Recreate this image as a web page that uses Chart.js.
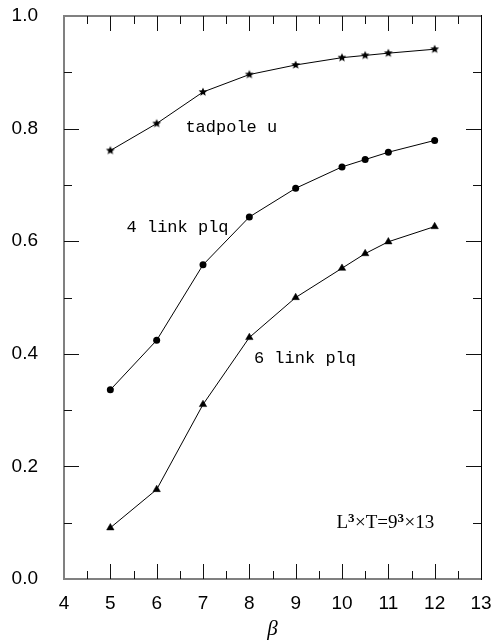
<!DOCTYPE html>
<html>
<head>
<meta charset="utf-8">
<script src="https://cdn.jsdelivr.net/npm/chart.js@4/dist/chart.umd.min.js"></script>
<style>
  html, body { margin: 0; padding: 0; background: #fff; }
  canvas { display: block; }
</style>
</head>
<body>
<canvas id="chart" width="491" height="643"></canvas>
<script>
// Coupling values (beta) at which each observable was measured
const betas = [5, 6, 7, 8, 9, 10, 10.5, 11, 12];

// Observables vs beta
const tadpoleU = [0.761, 0.809, 0.865, 0.896, 0.913, 0.926, 0.930, 0.934, 0.941];
const plaq4    = [0.336, 0.424, 0.558, 0.643, 0.694, 0.732, 0.745, 0.758, 0.779];
const plaq6    = [0.091, 0.159, 0.310, 0.429, 0.500, 0.552, 0.578, 0.599, 0.626];

// Axis ranges and tick steps
const xRange = [4, 13];
const yRange = [0, 1];
const xStep = 0.5;   // minor ticks every half unit, labels on integers
const yStep = 0.1;   // minor ticks every 0.1, labels every 0.2

// Curve captions and where they sit (in data coordinates)
const curveNames = ['tadpole u', '4 link plq', '6 link plq'];
const curveNameAt = [[6.62, 0.802], [5.35, 0.625], [8.1, 0.392]];

// Lattice size caption: [text, superscript?]
const latticeParts = [['L', false], ['3', true], ['\u00D7T=9', false], ['3', true], ['\u00D713', false]];
const latticeAt = [9.88, 0.099];

function makeStar(r) {
  const size = Math.ceil(r * 2) + 2;
  const c = document.createElement('canvas');
  c.width = c.height = size;
  const g = c.getContext('2d');
  g.fillStyle = '#000';
  g.beginPath();
  for (let i = 0; i < 10; i++) {
    const rad = i % 2 ? r * 0.45 : r;
    const a = -Math.PI / 2 + i * Math.PI / 5;
    g.lineTo(size / 2 + rad * Math.cos(a), size / 2 + rad * Math.sin(a));
  }
  g.closePath();
  g.fill();
  return c;
}

const toPoints = ys => betas.map((b, i) => ({ x: b, y: ys[i] }));

function tickValues(range, step) {
  const out = [];
  const n = Math.round((range[1] - range[0]) / step);
  for (let i = 1; i < n; i++) out.push({ value: range[0] + i * step, major: i % 2 === 0 });
  return out;
}

// Frame, inward tick marks on all four sides, and text captions
const framePlugin = {
  id: 'frame',
  afterDraw(chart) {
    const { ctx, chartArea: a, scales } = chart;
    const xs = scales.x, ys = scales.y;
    const L = Math.round(a.left), R = Math.round(a.right);
    const T = Math.round(a.top), B = Math.round(a.bottom);
    ctx.save();

    // frame: soft grey on three sides, solid black on the right
    ctx.fillStyle = '#808080';
    ctx.fillRect(L - 1, T, 2, B - T);
    ctx.fillRect(L - 1, B - 1, R - L + 1, 2);
    ctx.fillRect(L - 1, T - 1, R - L + 1, 2);
    ctx.fillStyle = '#000';
    ctx.fillRect(R, T - 1, 1, B - T + 2);

    // tick marks
    ctx.fillStyle = '#111';
    tickValues(xRange, xStep).forEach(t => {
      const len = t.major ? 15 : 8;
      const px = Math.round(xs.getPixelForValue(t.value));
      ctx.fillRect(px, B - len, 1, len);
      ctx.fillRect(px, T, 1, len);
    });
    tickValues(yRange, yStep).forEach(t => {
      const len = t.major ? 15 : 8;
      const py = Math.round(ys.getPixelForValue(t.value));
      ctx.fillRect(L, py, len, 1);
      ctx.fillRect(R - len, py, len, 1);
    });

    // captions
    ctx.fillStyle = '#000';
    ctx.textBaseline = 'middle';
    ctx.textAlign = 'left';
    ctx.font = '17px "Liberation Mono", monospace';
    curveNames.forEach((name, i) => {
      const [bx, by] = curveNameAt[i];
      ctx.fillText(name, xs.getPixelForValue(bx), ys.getPixelForValue(by));
    });

    let lx = xs.getPixelForValue(latticeAt[0]);
    const ly = ys.getPixelForValue(latticeAt[1]);
    latticeParts.forEach(([txt, sup]) => {
      ctx.font = sup ? 'bold 13px "Liberation Serif", serif' : '19px "Liberation Serif", serif';
      ctx.fillText(txt, lx, sup ? ly - 5 : ly);
      lx += ctx.measureText(txt).width + (sup ? 0.5 : 0);
    });
    ctx.restore();
  }
};

const lineStyle = {
  borderColor: '#000',
  borderWidth: 1,
  backgroundColor: '#000',
  pointBackgroundColor: '#000',
  pointBorderColor: '#000',
  tension: 0,
  fill: false
};

new Chart(document.getElementById('chart'), {
  type: 'line',
  data: {
    datasets: [
      { ...lineStyle, label: 'tadpole u', data: toPoints(tadpoleU),
        pointStyle: makeStar(4.6), pointRadius: 5, pointBorderWidth: 0 },
      { ...lineStyle, label: '4 link plq', data: toPoints(plaq4),
        pointStyle: 'circle', pointRadius: 3.5, pointBorderWidth: 0 },
      { ...lineStyle, label: '6 link plq', data: toPoints(plaq6),
        pointStyle: 'triangle', pointRadius: 4.3, pointBorderWidth: 0.5 }
    ]
  },
  options: {
    responsive: false,
    animation: false,
    devicePixelRatio: 1,
    layout: { padding: { top: 16, right: 10, left: 0, bottom: 0 } },
    plugins: { legend: { display: false }, tooltip: { enabled: false } },
    scales: {
      x: {
        type: 'linear',
        min: xRange[0], max: xRange[1],
        border: { display: false },
        grid: { display: false, drawTicks: false },
        ticks: {
          stepSize: xStep,
          autoSkip: false,
          maxRotation: 0,
          padding: 13,
          color: '#000',
          font: { family: '"Liberation Sans", Arial, sans-serif', size: 19 },
          callback: v => Number.isInteger(v) ? String(v) : null
        },
        title: {
          display: true,
          text: '\u03B2',
          color: '#000',
          padding: { top: 0, bottom: 1 },
          font: { family: '"Liberation Serif", serif', size: 21, style: 'italic' }
        },
        afterFit: s => {
          s.height = 64;
          s.paddingLeft = 0; s.paddingRight = 0;
        }
      },
      y: {
        type: 'linear',
        min: yRange[0], max: yRange[1],
        border: { display: false },
        grid: { display: false, drawTicks: false },
        ticks: {
          stepSize: yStep,
          autoSkip: false,
          padding: 26,
          color: '#000',
          font: { family: '"Liberation Sans", Arial, sans-serif', size: 19 },
          callback: v => (Math.round(v * 10) % 2 === 0) ? v.toFixed(1) : null
        },
        afterFit: s => {
          s.width = 64;
          s.paddingTop = 0; s.paddingBottom = 0;
        }
      }
    }
  },
  plugins: [framePlugin]
});
</script>
</body>
</html>
